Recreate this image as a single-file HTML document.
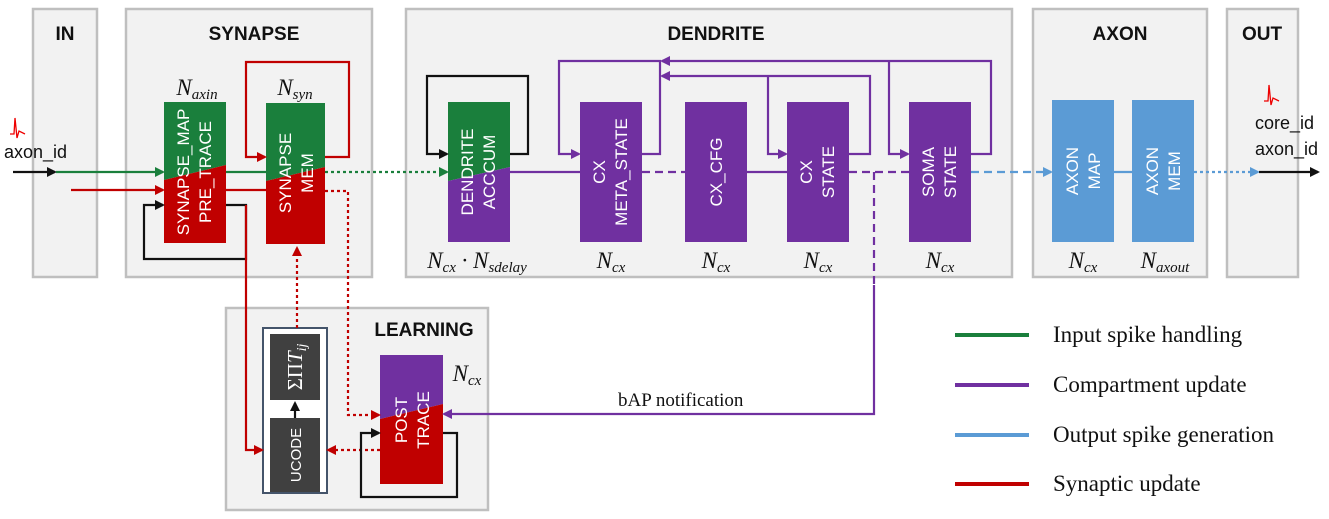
<!DOCTYPE html>
<html><head><meta charset="utf-8"><style>
html,body{margin:0;padding:0;background:#fff}
svg{display:block}
.t{font-family:"Liberation Sans",sans-serif;font-weight:bold;font-size:19px;fill:#111;text-anchor:middle}
.b{font-family:"Liberation Sans",sans-serif;font-size:17px;fill:#fff;text-anchor:middle}
.m{font-family:"Liberation Serif",serif;font-style:italic;font-size:23px;fill:#111;text-anchor:middle}
.s{font-size:15px}
.lg{font-family:"Liberation Serif",serif;font-size:23px;fill:#111}
.lb{font-family:"Liberation Sans",sans-serif;font-size:18px;fill:#111}
</style></head><body>
<svg width="1329" height="519" viewBox="0 0 1329 519" xmlns="http://www.w3.org/2000/svg">
<defs>
<marker id="ak" markerWidth="10" markerHeight="10" refX="8" refY="5" orient="auto" markerUnits="userSpaceOnUse"><path d="M0,0 L10,5 L0,10z" fill="#111"/></marker>
<marker id="ag" markerWidth="10" markerHeight="10" refX="8" refY="5" orient="auto" markerUnits="userSpaceOnUse"><path d="M0,0 L10,5 L0,10z" fill="#1a7f3c"/></marker>
<marker id="ar" markerWidth="10" markerHeight="10" refX="8" refY="5" orient="auto" markerUnits="userSpaceOnUse"><path d="M0,0 L10,5 L0,10z" fill="#c00000"/></marker>
<marker id="ap" markerWidth="10" markerHeight="10" refX="8" refY="5" orient="auto" markerUnits="userSpaceOnUse"><path d="M0,0 L10,5 L0,10z" fill="#7030a0"/></marker>
<marker id="ab" markerWidth="10" markerHeight="10" refX="8" refY="5" orient="auto" markerUnits="userSpaceOnUse"><path d="M0,0 L10,5 L0,10z" fill="#5b9bd5"/></marker>
</defs>
<g fill="#f2f2f2" stroke="#bfbfbf" stroke-width="2.5">
<rect x="33" y="9" width="64" height="268"/>
<rect x="126" y="9" width="246" height="268"/>
<rect x="406" y="9" width="606" height="268"/>
<rect x="1033" y="9" width="174" height="268"/>
<rect x="1227" y="9" width="71" height="268"/>
<rect x="226" y="308" width="262" height="202"/>
</g>
<text class="t" x="65" y="40">IN</text>
<text class="t" x="254" y="40">SYNAPSE</text>
<text class="t" x="716" y="40">DENDRITE</text>
<text class="t" x="1120" y="40">AXON</text>
<text class="t" x="1262" y="40">OUT</text>
<text class="t" x="424" y="336" text-anchor="middle">LEARNING</text>

<polygon points="164,102 226,102 226,165 164,180" fill="#1a7f3c"/><polygon points="164,180 226,165 226,243 164,243" fill="#c00000"/>
<polygon points="266,103 325,103 325,167 266,181" fill="#1a7f3c"/><polygon points="266,181 325,167 325,244 266,244" fill="#c00000"/>
<polygon points="448,102 510,102 510,167 448,181" fill="#1a7f3c"/><polygon points="448,181 510,167 510,242 448,242" fill="#7030a0"/>
<g fill="#7030a0"><rect x="580" y="102" width="62" height="140"/><rect x="685" y="102" width="62" height="140"/><rect x="787" y="102" width="62" height="140"/><rect x="909" y="102" width="62" height="140"/></g>
<g fill="#5b9bd5"><rect x="1052" y="100" width="62" height="142"/><rect x="1132" y="100" width="62" height="142"/></g>
<rect x="263" y="328" width="64" height="165" fill="#fff" stroke="#44546a" stroke-width="2"/>
<rect x="270" y="334" width="50" height="66" fill="#404040"/><rect x="270" y="418" width="50" height="74" fill="#404040"/>
<polygon points="380,355 443,355 443,404 380,419" fill="#7030a0"/><polygon points="380,419 443,404 443,484 380,484" fill="#c00000"/>

<g class="b">
<text transform="translate(189,172) rotate(-90)">SYNAPSE_MAP</text>
<text transform="translate(211,172) rotate(-90)">PRE_TRACE</text>
<text transform="translate(291,173) rotate(-90)">SYNAPSE</text>
<text transform="translate(313,173) rotate(-90)">MEM</text>
<text transform="translate(473,172) rotate(-90)">DENDRITE</text>
<text transform="translate(495,172) rotate(-90)">ACCCUM</text>
<text transform="translate(605,172) rotate(-90)">CX</text>
<text transform="translate(627,172) rotate(-90)">META_STATE</text>
<text transform="translate(722,172) rotate(-90)">CX_CFG</text>
<text transform="translate(812,172) rotate(-90)">CX</text>
<text transform="translate(834,172) rotate(-90)">STATE</text>
<text transform="translate(934,172) rotate(-90)">SOMA</text>
<text transform="translate(956,172) rotate(-90)">STATE</text>
<text transform="translate(1078,171) rotate(-90)">AXON</text>
<text transform="translate(1100,171) rotate(-90)">MAP</text>
<text transform="translate(1158,171) rotate(-90)">AXON</text>
<text transform="translate(1180,171) rotate(-90)">MEM</text>
<text transform="translate(407,420) rotate(-90)">POST</text>
<text transform="translate(429,420) rotate(-90)">TRACE</text>
<text transform="translate(301,455) rotate(-90)" style="font-size:15px">UCODE</text>
<text transform="translate(302,367) rotate(-90)" style="font-family:'Liberation Serif',serif;font-size:21px">ΣΠ<tspan font-style="italic">T<tspan style="font-size:14px" dy="4">ij</tspan></tspan></text>
</g>

<text class="m" x="197" y="95">N<tspan class="s" dy="4">axin</tspan></text>
<text class="m" x="295" y="95">N<tspan class="s" dy="4">syn</tspan></text>
<text class="m" x="477" y="268">N<tspan class="s" dy="4">cx</tspan><tspan dy="-4"> · N</tspan><tspan class="s" dy="4">sdelay</tspan></text>
<text class="m" x="611" y="268">N<tspan class="s" dy="4">cx</tspan></text>
<text class="m" x="716" y="268">N<tspan class="s" dy="4">cx</tspan></text>
<text class="m" x="818" y="268">N<tspan class="s" dy="4">cx</tspan></text>
<text class="m" x="940" y="268">N<tspan class="s" dy="4">cx</tspan></text>
<text class="m" x="1083" y="268">N<tspan class="s" dy="4">cx</tspan></text>
<text class="m" x="1165" y="268">N<tspan class="s" dy="4">axout</tspan></text>
<text class="m" x="467" y="381">N<tspan class="s" dy="4">cx</tspan></text>

<path d="M10,134 L14,134 L15,118 L17,138 L19,131 L25,134" fill="none" stroke="#e00" stroke-width="1.3"/>
<text class="lb" x="4" y="158">axon_id</text>
<path d="M1264,101 L1268,101 L1269,85 L1271,105 L1273,98 L1279,101" fill="none" stroke="#e00" stroke-width="1.3"/>
<text class="lb" x="1255" y="129">core_id</text>
<text class="lb" x="1255" y="155">axon_id</text>

<g fill="none" stroke-width="2.2">
<line x1="13" y1="172" x2="55" y2="172" stroke="#111" marker-end="url(#ak)"/>
<line x1="56" y1="172" x2="163" y2="172" stroke="#1a7f3c" marker-end="url(#ag)"/>
<line x1="226" y1="172" x2="266" y2="172" stroke="#1a7f3c"/>
<line x1="71" y1="190" x2="163" y2="190" stroke="#c00000" marker-end="url(#ar)"/>
<line x1="226" y1="190" x2="266" y2="190" stroke="#c00000"/>
<path d="M226,205 H246 V259 H144 V205 H163" stroke="#111" marker-end="url(#ak)"/>
<path d="M246,205 V450 H262" stroke="#c00000" marker-end="url(#ar)"/>
<path d="M325,157 H349 V62 H246 V157 H265" stroke="#c00000" marker-end="url(#ar)"/>
<path d="M325,172 H447" stroke="#1a7f3c" stroke-dasharray="3,3" marker-end="url(#ag)"/>
<path d="M325,191 H348 V415 H379" stroke="#c00000" stroke-dasharray="3,3" marker-end="url(#ar)"/>
<path d="M297,328 V248" stroke="#c00000" stroke-dasharray="3,3" marker-end="url(#ar)"/>
<path d="M380,450 H328" stroke="#c00000" stroke-dasharray="3,3" marker-end="url(#ar)"/>
<path d="M295,418 V403" stroke="#111" marker-end="url(#ak)"/>
<path d="M443,433 H457 V497 H361 V433 H379" stroke="#111" marker-end="url(#ak)"/>
<path d="M510,154 H528 V76 H427 V154 H447" stroke="#111" marker-end="url(#ak)"/>
<line x1="510" y1="172" x2="580" y2="172" stroke="#7030a0"/>
<line x1="642" y1="172" x2="685" y2="172" stroke="#7030a0" stroke-dasharray="8,5"/>
<line x1="747" y1="172" x2="787" y2="172" stroke="#7030a0"/>
<line x1="849" y1="172" x2="909" y2="172" stroke="#7030a0" stroke-dasharray="8,5"/>
<path d="M874,172 V285" stroke="#7030a0" stroke-dasharray="8,5"/>
<path d="M874,285 V414 H444" stroke="#7030a0" marker-end="url(#ap)"/>
<path d="M642,154 H660 V61 H559 V154 H579" stroke="#7030a0" marker-end="url(#ap)"/>
<path d="M971,154 H991 V61 H662" stroke="#7030a0" marker-end="url(#ap)"/>
<path d="M889,61 V154 H908" stroke="#7030a0" marker-end="url(#ap)"/>
<path d="M849,154 H870 V76 H662" stroke="#7030a0" marker-end="url(#ap)"/>
<path d="M768,76 V154 H786" stroke="#7030a0" marker-end="url(#ap)"/>
<line x1="971" y1="172" x2="1051" y2="172" stroke="#5b9bd5" stroke-dasharray="8,5" marker-end="url(#ab)"/>
<line x1="1114" y1="172" x2="1132" y2="172" stroke="#5b9bd5"/>
<line x1="1194" y1="172" x2="1258" y2="172" stroke="#5b9bd5" stroke-dasharray="3,3" marker-end="url(#ab)"/>
<line x1="1259" y1="172" x2="1318" y2="172" stroke="#111" marker-end="url(#ak)"/>
</g>
<text x="618" y="406" style="font-family:'Liberation Serif',serif;font-size:19px;fill:#111">bAP notification</text>

<g stroke-width="4">
<line x1="955" y1="335" x2="1029" y2="335" stroke="#1a7f3c"/>
<line x1="955" y1="385" x2="1029" y2="385" stroke="#7030a0"/>
<line x1="955" y1="435" x2="1029" y2="435" stroke="#5b9bd5"/>
<line x1="955" y1="484" x2="1029" y2="484" stroke="#c00000"/>
</g>
<text class="lg" x="1053" y="342">Input spike handling</text>
<text class="lg" x="1053" y="392">Compartment update</text>
<text class="lg" x="1053" y="442">Output spike generation</text>
<text class="lg" x="1053" y="491">Synaptic update</text>
</svg>
</body></html>
